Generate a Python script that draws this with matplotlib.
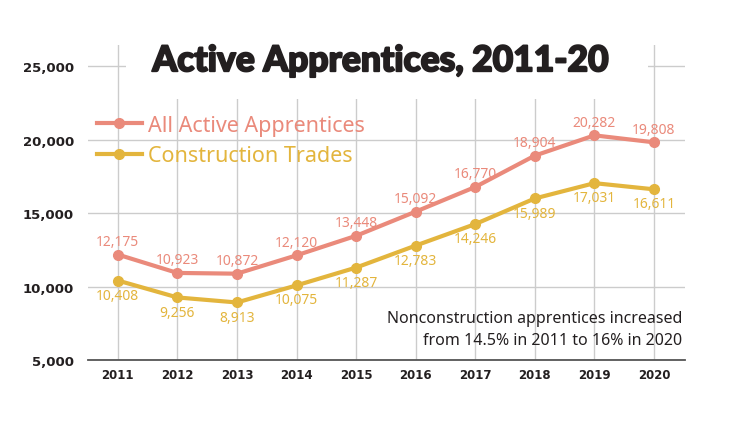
import matplotlib
matplotlib.use('Agg')
import matplotlib.pyplot as plt
import matplotlib.patheffects as pe
from matplotlib.patches import Rectangle

years = [2011, 2012, 2013, 2014, 2015, 2016, 2017, 2018, 2019, 2020]
all_active = [12175, 10923, 10872, 12120, 13448, 15092, 16770, 18904, 20282, 19808]
construction = [10408, 9256, 8913, 10075, 11287, 12783, 14246, 15989, 17031, 16611]
y_ticks = [5000, 10000, 15000, 20000, 25000]

salmon = '#EA8A7B'
gold = '#E3B53D'
dark = '#231f20'

plt.rcParams['font.family'] = ['Noto Sans', 'DejaVu Sans']

fig = plt.figure(figsize=(7.5, 4.35), dpi=100)
ax = fig.add_axes([0.1173, 0.1701, 0.796, 0.7242])

ax.plot(years, all_active, color=salmon, lw=3, marker='o', ms=7, zorder=3)
ax.plot(years, construction, color=gold, lw=3, marker='o', ms=7, zorder=3)

for x, v in zip(years, all_active):
    ax.annotate(f'{v:,}', (x, v), xytext=(0, 9.5), textcoords='offset points',
                ha='center', va='center', color=salmon, fontsize=10, zorder=4)
for x, v in zip(years, construction):
    ax.annotate(f'{v:,}', (x, v), xytext=(0, -10.5), textcoords='offset points',
                ha='center', va='center', color=gold, fontsize=10, zorder=4)

ax.set_xlim(2010.5, 2020.52)
ax.set_ylim(5000, 26430)
ax.set_xticks(years)
ax.set_yticks(y_ticks)
ax.set_yticklabels([f'{t:,}' for t in y_ticks])
ax.set_axisbelow(True)
ax.grid(True, color='#cccccc', lw=1)
for s in ['top', 'right', 'left']:
    ax.spines[s].set_visible(False)
ax.spines['bottom'].set_color('#555555')
ax.spines['bottom'].set_linewidth(1.3)
ax.tick_params(length=0, labelcolor=dark)
ax.tick_params(axis='x', pad=6)
ax.tick_params(axis='y', pad=10)
for lab in ax.get_xticklabels():
    lab.set_family('DejaVu Sans')
    lab.set_fontweight('bold')
    lab.set_fontsize(8.5)
for lab in ax.get_yticklabels():
    lab.set_family('DejaVu Sans')
    lab.set_fontweight('bold')
    lab.set_fontsize(9.5)

# white box behind the title
ax.add_patch(Rectangle((2011.13, 22755), 8.77, 5000, facecolor='white',
                       edgecolor='none', zorder=1))

fig.text(0.507, 0.857, 'Active Apprentices, 2011-20', ha='center', va='center',
         fontsize=25.5, fontweight='black', color=dark,
         family=['Lato', 'DejaVu Sans'],
         path_effects=[pe.withStroke(linewidth=1.4, foreground=dark)])

# legend
ax.plot([], [], color=salmon, lw=3, marker='o', ms=7, label='All Active Apprentices')
ax.plot([], [], color=gold, lw=3, marker='o', ms=7, label='Construction Trades')
leg = ax.legend(loc='upper left', bbox_to_anchor=(0.0, 0.805), frameon=False,
                fontsize=15.5, handlelength=2.1, handletextpad=0.3,
                labelspacing=0.42, borderaxespad=0)
for t, c in zip(leg.get_texts(), [salmon, gold]):
    t.set_color(c)

ax.text(0.995, 0.10, 'Nonconstruction apprentices increased\nfrom 14.5% in 2011 to 16% in 2020',
        transform=ax.transAxes, ha='right', va='center', fontsize=11.5,
        color=dark, linespacing=1.5)

fig.savefig('out.png', dpi=100)
